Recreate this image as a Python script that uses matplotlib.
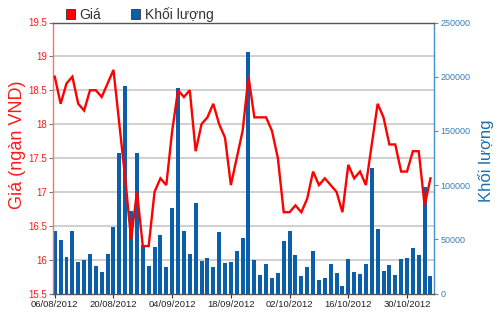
import matplotlib
matplotlib.use("Agg")
import matplotlib.pyplot as plt
from matplotlib.ticker import MultipleLocator, FuncFormatter
from matplotlib.patches import Patch

plt.rcParams['font.family'] = ['Liberation Sans', 'DejaVu Sans']

# ---- data ----
prices = [18.7, 18.3, 18.6, 18.7, 18.3, 18.2, 18.5, 18.5, 18.4, 18.6, 18.8,
          18.0, 17.2, 16.3, 17.0, 16.2, 16.2, 17.0, 17.2, 17.1, 17.9,
          18.5, 18.4, 18.5, 17.6, 18.0, 18.1, 18.3, 18.0, 17.8, 17.1,
          17.5, 17.9, 18.7, 18.1, 18.1, 18.1, 17.9, 17.5, 16.7, 16.7,
          16.8, 16.7, 16.9, 17.3, 17.1, 17.2, 17.1, 17.0, 16.7, 17.4,
          17.2, 17.3, 17.1, 17.7, 18.3, 18.1, 17.7, 17.7, 17.3, 17.3,
          17.6, 17.6, 16.8, 17.2]
volumes = [57300, 49300, 33900, 57300, 29200, 30800, 36900, 25200, 20000, 36300, 61000,
           129300, 191500, 75700, 129300, 44300, 25200, 43100, 53900, 24000, 78500,
           189300, 57900, 36000, 83700, 30200, 32600, 24000, 57000, 27700, 28900,
           39100, 50800, 222600, 30800, 17500, 26800, 14500, 19100, 48300, 57300,
           35100, 16300, 24300, 39100, 12300, 14200, 26800, 18500, 7100, 32000,
           20000, 18200, 26800, 115500, 59100, 21200, 25900, 16900, 31400, 32900,
           41900, 35100, 98500, 16300]
tick_labels = ["06/08/2012", "20/08/2012", "04/09/2012", "18/09/2012",
               "02/10/2012", "16/10/2012", "30/10/2012"]
tick_step = 10
price_label = "Giá (ngàn VND)"
volume_label = "Khối lượng"
legend_labels = ["Giá", "Khối lượng"]

x = list(range(len(prices)))

RED = '#ff1a1a'
BAR = '#0b5ea9'
BLUE_AX = '#4a90c8'
BLUE_TXT = '#3a7fb5'

fig = plt.figure(figsize=(5, 3.12), dpi=100)
fig.patch.set_facecolor('white')
ax_p = fig.add_axes([53 / 500, 18.5 / 312, 381 / 500, 271 / 312])
ax_v = ax_p.twinx()

# volume bars (behind)
ax_v.bar(x, volumes, width=0.68, color=BAR, linewidth=0, zorder=2)
ax_v.set_ylim(0, 250000)
ax_v.yaxis.set_major_locator(MultipleLocator(50000))
ax_v.yaxis.set_minor_locator(MultipleLocator(31250))
ax_v.yaxis.set_major_formatter(FuncFormatter(lambda v, p: "%d" % v))
ax_v.grid(which='minor', axis='y', color='#c8c8c8', linewidth=1.2)
ax_v.grid(which='major', axis='y', visible=False)
ax_v.set_axisbelow(True)
ax_v.tick_params(axis='y', which='minor', length=0)
ax_v.tick_params(axis='y', which='major', colors=BLUE_AX, labelcolor=BLUE_TXT,
                 labelsize=6.5, length=3, pad=1.5, width=0.8)
ax_v.set_ylabel(volume_label, color='#1f6fae', fontsize=12, rotation=90)
ax_v.yaxis.set_label_coords((478 - 53) / 381, 0.49)
for s in ['left', 'top', 'bottom']:
    ax_v.spines[s].set_visible(False)
ax_v.spines['right'].set_color(BLUE_AX)
ax_v.spines['right'].set_linewidth(1.0)
ax_v.patch.set_visible(True)
ax_v.patch.set_facecolor('white')

# price line (on top)
ax_p.set_zorder(ax_v.get_zorder() + 1)
ax_p.patch.set_visible(False)
ax_p.plot(x, prices, color='#ff0000', linewidth=1.7, zorder=5, solid_joinstyle='miter')
ax_p.set_ylim(15.5, 19.5)
ax_p.set_xlim(-0.3, 64.6)
ax_p.yaxis.set_major_locator(MultipleLocator(0.5))
ax_p.yaxis.set_major_formatter(FuncFormatter(lambda v, p: "%g" % v))
ax_p.tick_params(axis='y', colors='#777777', labelcolor=RED, labelsize=7,
                 length=3, pad=1.5, width=0.8)
ax_p.set_xticks(list(range(0, len(prices), tick_step)))
ax_p.set_xticklabels(tick_labels)
ax_p.tick_params(axis='x', colors='#333333', labelcolor='#222222', labelsize=6.8,
                 length=3, pad=1.5, width=0.8)
ax_p.set_ylabel(price_label, color=RED, fontsize=13)
ax_p.yaxis.set_label_coords((26 - 53) / 381, 0.55)
ax_p.spines['left'].set_color('#ff7070')
ax_p.spines['left'].set_linewidth(1.0)
ax_p.spines['top'].set_color('#555555')
ax_p.spines['top'].set_linewidth(1.0)
ax_p.spines['bottom'].set_color('#555555')
ax_p.spines['bottom'].set_linewidth(1.0)
ax_p.spines['right'].set_visible(False)

# legend
handles = [Patch(facecolor='#ff0000', edgecolor='#333333', linewidth=0.6),
           Patch(facecolor=BAR, edgecolor='#333333', linewidth=0.6)]
fig.legend(handles, legend_labels, loc='center left',
           bbox_to_anchor=(59 / 500, 1 - 14.5 / 312), ncol=2, frameon=False,
           fontsize=10, borderpad=0, handlelength=0.65, handleheight=0.65,
           handletextpad=0.3, columnspacing=2.2, labelcolor='#333333')

fig.savefig('out.png', dpi=100, facecolor='white')
